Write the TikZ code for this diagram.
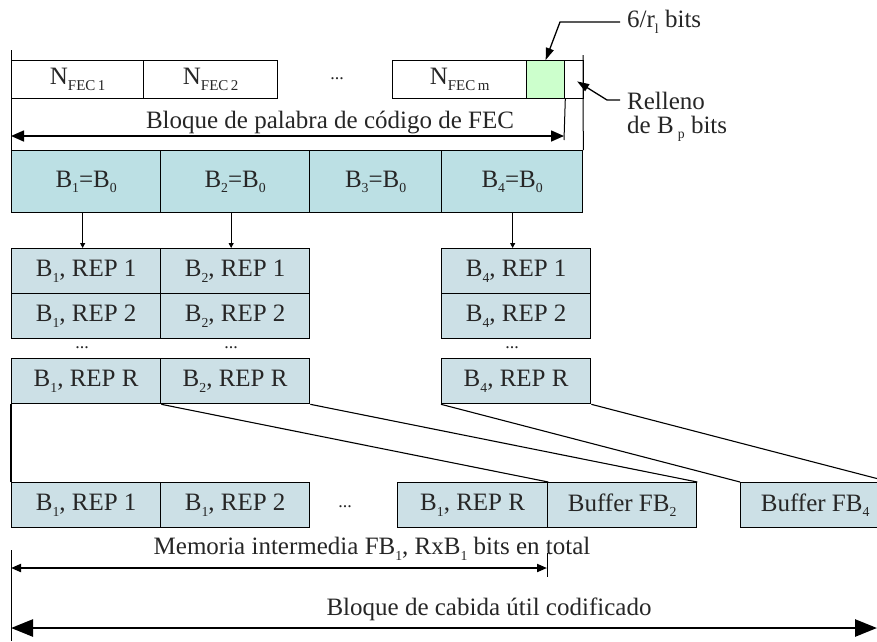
\documentclass[tikz,border=0pt]{standalone}
\usepackage{fontspec}
\setmainfont{Liberation Serif}
\usepackage{graphicx}
\usetikzlibrary{arrows.meta,calc}

% small lowered index used throughout the labels
\newcommand\lowsub[2][0.55]{\raisebox{-0.22em}{\scalebox{#1}{#2}}}
\newcommand\dotsmall{{\fontsize{18}{20}\selectfont ...}}

\definecolor{blockfill}{HTML}{BCE0E4}
\definecolor{repfill}{HTML}{CCE0E6}
\definecolor{padfill}{HTML}{CCFFCC}

\tikzset{
  cell/.style={draw, line width=1.3pt, inner sep=0pt, anchor=north west,
               minimum width=#1, text=black!85},
  toprow/.style={cell=#1, minimum height=37.5pt, fill=white},
  blockrow/.style={cell=#1, minimum height=62pt, fill=blockfill},
  reprow/.style={cell=#1, minimum height=45pt, fill=repfill},
  thin/.style={line width=1pt},
  link/.style={line width=1.1pt},
  smallarrow/.style={line width=1pt, -{Triangle[length=5pt,width=5pt]}},
  dimarrow/.style={line width=1.6pt, {Triangle[length=13pt,width=11pt]}-{Triangle[length=13pt,width=11pt]}},
  memarrow/.style={line width=2pt, {Triangle[length=10pt,width=8pt]}-{Triangle[length=10pt,width=8pt]}},
  bigarrow/.style={line width=2.6pt, {Triangle[length=22pt,width=17pt]}-{Triangle[length=22pt,width=17pt]}},
  callout/.style={line width=1.3pt, -{Triangle[length=12pt,width=8pt]}},
  lbl/.style={inner sep=0pt, text=black!85}
}

\begin{document}
\begin{tikzpicture}[x=1pt, y=-1pt, font=\fontsize{25}{29}\selectfont]
\path[use as bounding box, clip] (0,0) rectangle (877,641);

% FEC code words
\node[toprow=132pt] (fec1) at (11,60)  {N\lowsub[0.6]{FEC\,1}};
\node[toprow=134pt] (fec2) at (143,60) {N\lowsub[0.6]{FEC\,2}};
\node[lbl] (fecdots) at (337,79) {\dotsmall};
\node[toprow=134pt] (fecm) at (392,60) {N\lowsub[0.6]{FEC\,m}};
\node[toprow=38pt, fill=padfill] (pad) at (526,60) {};
\node[toprow=19pt] (relleno) at (564,60) {};

% limits of the FEC code word block
\coordinate (fecL) at (11,50);
\coordinate (fecR) at (583,55);
\coordinate (fecEnd) at (564,140);
\coordinate (fecA) at (11,136);
\coordinate (fecB) at (564,136);

% blocks
\node[blockrow=149pt] (b1) at (11,150)  {B\lowsub{1}=B\lowsub{0}};
\node[blockrow=149pt] (b2) at (160,150) {B\lowsub{2}=B\lowsub{0}};
\node[blockrow=132pt] (b3) at (309,150) {B\lowsub{3}=B\lowsub{0}};
\node[blockrow=141pt] (b4) at (441,150) {B\lowsub{4}=B\lowsub{0}};

\draw[thin] (fecL) -- (b1.north west);
\draw[thin] (fecR) -- (b4.north east);
\draw[thin] (pad.south east) -- (fecEnd);
\draw[dimarrow] (fecA) -- (fecB);
\node[lbl] (feclabel) at (330,122) {Bloque de palabra de código de FEC};

% callouts
\coordinate (c6a) at (620,22);
\coordinate (c6b) at (560,22);
\draw[callout] (c6a) -- (c6b) -- (pad.north);
\node[lbl, anchor=west] (c6label) at (627,22) {6/r\lowsub{l} bits};

\coordinate (cra) at (620,100);
\coordinate (crb) at (607,100);
\draw[callout] (cra) -- (crb) -- ([xshift=3pt,yshift=-2pt]relleno.center);
\node[lbl, anchor=west] (crlabel1) at (627,101) {Relleno};
\node[lbl, anchor=west] (crlabel2) at (627,129) {de B\,\lowsub{p} bits};

% repetitions
\node[reprow=149pt] (r11) at (11,248)  {B\lowsub{1}, REP 1};
\node[reprow=149pt] (r12) at (11,293)  {B\lowsub{1}, REP 2};
\node[lbl] (d1) at (82,348) {\dotsmall};
\node[reprow=149pt] (r1R) at (11,358)  {B\lowsub{1}, REP R};

\node[reprow=149pt] (r21) at (160,248) {B\lowsub{2}, REP 1};
\node[reprow=149pt] (r22) at (160,293) {B\lowsub{2}, REP 2};
\node[lbl] (d2) at (231,348) {\dotsmall};
\node[reprow=149pt] (r2R) at (160,358) {B\lowsub{2}, REP R};

\node[reprow=149pt] (r41) at (441,248) {B\lowsub{4}, REP 1};
\node[reprow=149pt] (r42) at (441,293) {B\lowsub{4}, REP 2};
\node[lbl] (d4) at (512,348) {\dotsmall};
\node[reprow=149pt] (r4R) at (441,358) {B\lowsub{4}, REP R};

\draw[smallarrow] ([xshift=-3.5pt]b1.south) -- ([xshift=-3.5pt]r11.north);
\draw[smallarrow] ([xshift=-4pt]b2.south) -- ([xshift=-4pt]r21.north);
\draw[smallarrow] ([xshift=0.5pt]b4.south) -- ([xshift=-3.5pt]r41.north);

% buffers
\node[reprow=149pt] (f1)  at (11,482)  {B\lowsub{1}, REP 1};
\node[reprow=149pt] (f2)  at (160,482) {B\lowsub{1}, REP 2};
\node[lbl] (fdots) at (345,507) {\dotsmall};
\node[reprow=150pt] (fR)  at (397,482) {B\lowsub{1}, REP R};
\node[reprow=149pt] (fb2) at (547,482) {Buffer FB\lowsub{2}};
\node[reprow=149pt] (fb4) at (740,482) {Buffer FB\lowsub{4}};

\draw[link] (r1R.south west) -- (f1.north west);
\draw[link] (r1R.south east) -- (fR.north east);
\draw[link] (r2R.south east) -- (fb2.north east);
\draw[link] (r4R.south west) -- (fb4.north west);
\draw[link] (r4R.south east) -- (fb4.north east);

% totals
\coordinate (memL) at (11,550);
\coordinate (memBot) at (11,641);
\coordinate (memRt) at (547,553);
\coordinate (memRb) at (547,577);
\coordinate (memA) at (11,568);
\coordinate (memB) at (547,568);
\draw[thin] (memL) -- (memBot);
\draw[thin] (memRt) -- (memRb);
\draw[memarrow] (memA) -- (memB);
\node[lbl] (memlabel) at (372,549) {Memoria intermedia FB\lowsub{1}, RxB\lowsub{1} bits en total};

\coordinate (payA) at (11,628);
\coordinate (payB) at (877,628);
\draw[bigarrow] (payA) -- (payB);
\node[lbl] (paylabel) at (489,609) {Bloque de cabida útil codificado};
\end{tikzpicture}
\end{document}
